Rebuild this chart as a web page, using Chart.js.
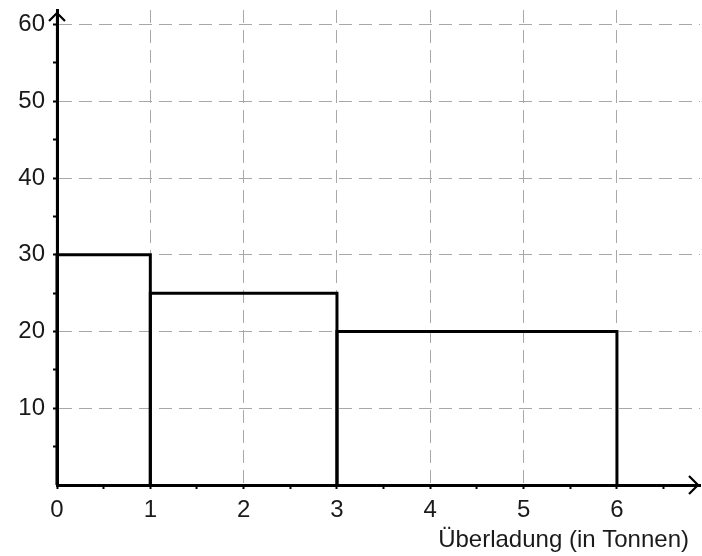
<!DOCTYPE html>
<html>
<head>
<meta charset="utf-8">
<script src="https://cdn.jsdelivr.net/npm/chart.js@4"></script>
<style>
html,body{margin:0;padding:0;background:#fff;}
#wrap{width:702px;height:556px;}
</style>
</head>
<body>
<div id="wrap"><canvas id="c"></canvas></div>
<script>
// Histogram class edges (tonnes) and heights
const classEdges = [0, 1, 3, 6];
const classHeights = [30, 25, 20];
const xTickLabels = [0, 1, 2, 3, 4, 5, 6];
const yTickLabels = [10, 20, 30, 40, 50, 60];
const xAxisTitle = 'Überladung (in Tonnen)';

const FONT = '"Liberation Sans", Arial, Helvetica, sans-serif';
const TXT = '#1a1a1a';

const datasets = classHeights.map((h, i) => ({
  data: [
    {x: classEdges[i], y: 0},
    {x: classEdges[i], y: h},
    {x: classEdges[i + 1], y: h},
    {x: classEdges[i + 1], y: 0}
  ],
  showLine: true,
  borderColor: '#000',
  borderWidth: 3,
  pointRadius: 0,
  fill: false,
  tension: 0,
  borderJoinStyle: 'miter',
  clip: false
}));

const arrowPlugin = {
  id: 'arrows',
  afterDraw(chart) {
    const ctx = chart.ctx;
    const xs = chart.scales.x, ys = chart.scales.y;
    const x0 = xs.getPixelForValue(0), y0 = ys.getPixelForValue(0);
    const ca = chart.chartArea;
    ctx.save();
    ctx.strokeStyle = '#000';
    ctx.lineWidth = 2.2;
    ctx.lineCap = 'butt';
    ctx.lineJoin = 'miter';
    // y arrow
    const ty = ca.top + 3;
    ctx.beginPath();
    ctx.moveTo(x0, y0);
    ctx.lineTo(x0, ty);
    ctx.stroke();
    ctx.beginPath();
    ctx.moveTo(x0 - 8, ty + 8);
    ctx.lineTo(x0, ty);
    ctx.lineTo(x0 + 8, ty + 8);
    ctx.stroke();
    // x arrow
    const tx = ca.right - 2;
    ctx.beginPath();
    ctx.moveTo(tx - 9, y0 - 9);
    ctx.lineTo(tx, y0);
    ctx.lineTo(tx - 9, y0 + 9);
    ctx.stroke();
    // axis title
    ctx.fillStyle = TXT;
    ctx.font = '24px ' + FONT;
    ctx.textAlign = 'right';
    ctx.textBaseline = 'alphabetic';
    ctx.fillText(xAxisTitle, 689, 547);
    ctx.restore();
  }
};

const isInt = v => Math.abs(v - Math.round(v)) < 1e-6;

new Chart(document.getElementById('c'), {
  type: 'scatter',
  data: { datasets },
  plugins: [arrowPlugin],
  options: {
    responsive: true,
    maintainAspectRatio: false,
    animation: false,
    layout: { padding: { top: 10, right: 2, left: 0, bottom: 0 } },
    plugins: { legend: { display: false }, tooltip: { enabled: false } },
    scales: {
      x: {
        type: 'linear',
        min: 0,
        max: 6.89,
        afterFit(s) { s.height = 71; s.paddingLeft = 0; s.paddingRight = 0; },
        ticks: {
          stepSize: 0.5,
          includeBounds: false,
          autoSkip: false,
          maxRotation: 0,
          padding: 7,
          color: TXT,
          font: { family: FONT, size: 24 },
          callback: v => (isInt(v) && xTickLabels.includes(Math.round(v))) ? String(Math.round(v)) : ''
        },
        grid: {
          drawOnChartArea: true,
          drawTicks: true,
          tickLength: 4,
          tickWidth: 2,
          tickColor: '#000',
          lineWidth: 1,
          color: ctx => {
            const v = ctx.tick ? ctx.tick.value : 0;
            return (isInt(v) && v > 0 && xTickLabels.includes(Math.round(v))) ? '#a8a8a8' : 'rgba(0,0,0,0)';
          }
        },
        border: { display: true, color: '#000', width: 3, dash: [13, 7] }
      },
      y: {
        type: 'linear',
        min: 0,
        max: 61.9,
        afterFit(s) { s.width = 57; s.paddingTop = 0; s.paddingBottom = 0; },
        ticks: {
          stepSize: 5,
          includeBounds: false,
          autoSkip: false,
          padding: 8,
          color: TXT,
          font: { family: FONT, size: 24 },
          callback: v => yTickLabels.includes(Math.round(v)) && Math.abs(v % 10) < 1e-6 ? String(Math.round(v)) : ''
        },
        grid: {
          drawOnChartArea: true,
          drawTicks: true,
          tickLength: 4,
          tickWidth: 2,
          tickColor: ctx => (ctx.tick && ctx.tick.value > 0) ? '#000' : 'rgba(0,0,0,0)',
          lineWidth: 1,
          color: ctx => {
            const v = ctx.tick ? ctx.tick.value : 0;
            return (v > 0 && Math.abs(v % 10) < 1e-6) ? '#a8a8a8' : 'rgba(0,0,0,0)';
          }
        },
        border: { display: true, color: '#000', width: 3, dash: [13, 7] }
      }
    }
  }
});
</script>
</body>
</html>
